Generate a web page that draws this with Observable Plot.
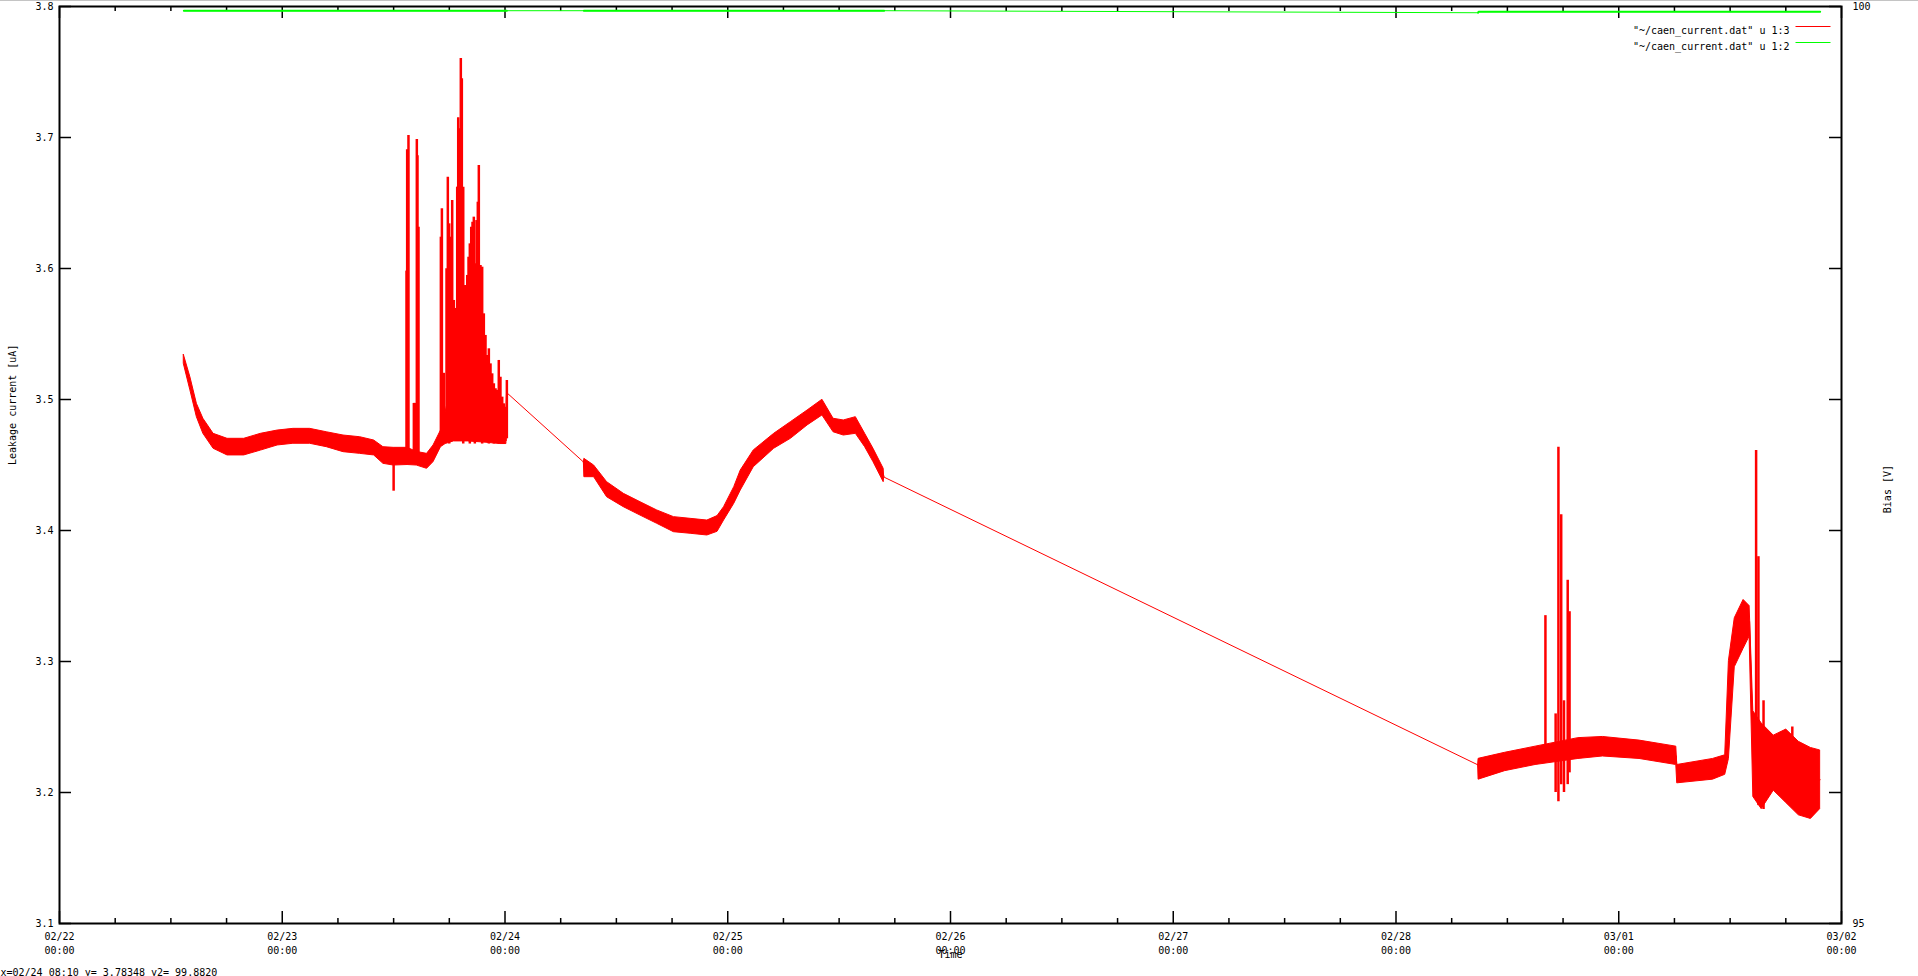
<!DOCTYPE html>
<html><head><meta charset="utf-8">
<script src="https://cdn.jsdelivr.net/npm/d3@7"></script>
<script src="https://cdn.jsdelivr.net/npm/@observablehq/plot@0.6"></script>
<style>
html,body{margin:0;padding:0;background:#fff;overflow:hidden}
#topline{position:absolute;left:0;top:0;width:100%;height:1px;background:#c4c4c4}
svg{display:block}
</style></head><body>
<div id="chart"></div>
<div id="topline"></div>
<script>
// time origin: 02/22 00:00 (non-leap year), end 03/02 00:00
const START = Date.UTC(2021, 1, 22);
const END = Date.UTC(2021, 2, 2);

// Leakage current noise band (hours since 02/22 00:00, lower/upper edge in uA, segment id)
const bandHours = [13.4, 14.1, 14.8, 15.5, 16.6, 18.1, 19.9, 21.7, 23.5, 25.2, 27.0, 28.8, 30.6, 32.4, 33.9, 34.9, 36.0, 37.5, 38.5, 39.6, 40.3, 41.1, 41.6, 42.5, 44.0, 46.0, 47.5, 48.15, 48.22,
  56.5, 56.55, 57.6, 59.0, 60.8, 62.6, 64.4, 66.2, 68.0, 69.8, 70.9, 71.6, 72.7, 73.4, 74.8, 77.0, 78.8, 80.6, 82.2, 83.4, 84.5, 85.8, 86.8, 87.7, 88.8, 88.85,
  152.85, 152.9, 155.75, 159.04, 163.65, 166.29, 170.24, 174.2, 174.3, 178.15, 179.47, 179.87, 180.5, 181.45, 182.1, 182.5, 183.4, 184.7, 186.05, 187.4, 188.7, 189.7];
const bandLo = [3.527, 3.507, 3.4865, 3.4738, 3.4624, 3.4573, 3.4573, 3.461, 3.4649, 3.4662, 3.4662, 3.4636, 3.4598, 3.4585, 3.4573, 3.4509, 3.4496, 3.450, 3.4496, 3.4471, 3.4522, 3.4636, 3.466, 3.468, 3.468, 3.467, 3.466, 3.466, 3.505,
  3.452, 3.4407, 3.4407, 3.4254, 3.4178, 3.4114, 3.4051, 3.3987, 3.3975, 3.3962, 3.399, 3.4076, 3.4204, 3.4305, 3.4483, 3.4624, 3.470, 3.4802, 3.4878, 3.475, 3.4725, 3.4738, 3.4636, 3.4522, 3.4369, 3.4407,
  3.221, 3.2098, 3.2163, 3.221, 3.2256, 3.2275, 3.2256, 3.221, 3.207, 3.2098, 3.2135, 3.2256, 3.2956, 3.3097, 3.319, 3.1966, 3.1873, 3.2014, 3.192, 3.1826, 3.1798, 3.1873];
const bandHi = [3.534, 3.517, 3.4967, 3.4853, 3.4738, 3.470, 3.470, 3.4738, 3.4763, 3.4776, 3.4776, 3.475, 3.4725, 3.4712, 3.4687, 3.4636, 3.4631, 3.4631, 3.460, 3.4585, 3.4649, 3.4763, 3.49, 3.52, 3.52, 3.505, 3.495, 3.49, 3.505,
  3.452, 3.4547, 3.4496, 3.4369, 3.428, 3.4216, 3.4153, 3.4102, 3.4089, 3.4076, 3.411, 3.4178, 3.4331, 3.4458, 3.4611, 3.4738, 3.4827, 3.4916, 3.4998, 3.4853, 3.484, 3.4865, 3.4738, 3.4624, 3.4471, 3.4407,
  3.221, 3.2257, 3.2303, 3.235, 3.2415, 3.2424, 3.2396, 3.235, 3.221, 3.2256, 3.2284, 3.3003, 3.333, 3.347, 3.3423, 3.262, 3.2527, 3.2434, 3.248, 3.2387, 3.234, 3.2321];
const bandSeg = [1,1,1,1,1,1,1,1,1,1,1,1,1,1,1,1,1,1,1,1,1,1,1,1,1,1,1,1,1,
  2,2,2,2,2,2,2,2,2,2,2,2,2,2,2,2,2,2,2,2,2,2,2,2,2,2,
  3,3,3,3,3,3,3,3,3,3,3,3,3,3,3,3,3,3,3,3,3,3];

// Current spikes (hours, low end, high end in uA)
const spikeHours = [36.0, 37.39, 37.46, 37.6, 38.18, 38.25, 38.33, 38.5, 38.57, 38.68,
  41.09, 41.2, 41.41, 41.7, 41.84, 41.99, 42.13, 42.31, 42.49, 42.67, 42.85, 42.96, 43.07, 43.13, 43.24, 43.35, 43.5, 43.64, 43.78, 43.93,
  44.07, 44.21, 44.36, 44.5, 44.64, 44.75, 44.93, 45.07, 45.18, 45.36, 45.54, 45.72, 45.9, 46.08, 46.26, 46.44, 46.62, 46.8, 46.98, 47.16,
  47.33, 47.51, 47.7, 47.87, 48.06, 48.2,
  160.1, 161.2, 161.5, 161.8, 162.1, 162.5, 162.7, 182.8, 183.05, 183.6, 186.7];
const spikeLo = [3.43, 3.452, 3.452, 3.452, 3.452, 3.452, 3.452, 3.45, 3.45, 3.45,
  3.47, 3.468, 3.47, 3.472, 3.468, 3.466, 3.47, 3.474, 3.468, 3.47, 3.476, 3.47, 3.468, 3.472, 3.474, 3.47, 3.466, 3.47, 3.476, 3.472,
  3.468, 3.466, 3.47, 3.468, 3.472, 3.466, 3.47, 3.468, 3.474, 3.47, 3.466, 3.47, 3.468, 3.472, 3.466, 3.47, 3.468, 3.466, 3.47, 3.468,
  3.466, 3.47, 3.468, 3.466, 3.468, 3.47,
  3.235, 3.20, 3.193, 3.206, 3.20, 3.206, 3.215, 3.197, 3.19, 3.187, 3.19];
const spikeHi = [3.455, 3.598, 3.6906, 3.7015, 3.497, 3.497, 3.497, 3.6985, 3.686, 3.6315,
  3.6239, 3.6456, 3.52, 3.5998, 3.6697, 3.6341, 3.6239, 3.6519, 3.5756, 3.5695, 3.6621, 3.715, 3.7066, 3.6926, 3.7603, 3.7448, 3.662, 3.587, 3.587, 3.5947,
  3.6086, 3.6188, 3.6315, 3.6353, 3.6392, 3.6036, 3.6366, 3.6506, 3.6786, 3.6023, 3.601, 3.5654, 3.5489, 3.5336, 3.5387, 3.5272, 3.5196, 3.512, 3.5082, 3.507,
  3.5298, 3.517, 3.5018, 3.4967, 3.494, 3.5145,
  3.335, 3.26, 3.4636, 3.412, 3.27, 3.362, 3.338, 3.461, 3.38, 3.27, 3.25];

// Bias voltage (hours, volts, segment id)
const biasHours = [13.4, 48.2, 56.5, 88.85, 152.85, 152.9, 189.7];
const biasVolts = [99.977, 99.977, 99.977, 99.977, 99.966, 99.972, 99.972];
const biasSeg = [1, 1, 2, 2, 3, 3, 3];

// Axes
const yTickValues = [3.1, 3.2, 3.3, 3.4, 3.5, 3.6, 3.7, 3.8];
const yTickLabels = ["3.1", "3.2", "3.3", "3.4", "3.5", "3.6", "3.7", "3.8"];
const y2TickValues = [95, 100];
const y2TickLabels = ["95", "100"];
const y2Domain = [95, 100];
const xTickDays = ["2021-02-22", "2021-02-23", "2021-02-24", "2021-02-25", "2021-02-26", "2021-02-27", "2021-02-28", "2021-03-01", "2021-03-02"];
const xLabel = "Time";
const yLabel = "Leakage current [uA]";
const y2Label = "Bias [V]";
const legendLabels = ['"~/caen_current.dat" u 1:3', '"~/caen_current.dat" u 1:2'];
const legendColors = ["#ff0000", "#00ff00"];
const statusText = "x=02/24 08:10 y= 3.78348 y2= 99.8820";

// layout
const W = 1918, H = 976, ML = 59, MR = 77, MT = 6, MB = 53;
const frameW = W - ML - MR, frameH = H - MT - MB;
const yDomain = [3.1, 3.8];

const toDate = h => new Date(START + h * 3600e3);
const band = bandHours.map((h, i) => ({t: toDate(h), lo: bandLo[i], hi: bandHi[i], seg: bandSeg[i]}));
const spikes = spikeHours.map((h, i) => ({t: toDate(h), lo: spikeLo[i], hi: spikeHi[i]}));
const toLeft = v => yDomain[0] + (v - y2Domain[0]) / (y2Domain[1] - y2Domain[0]) * (yDomain[1] - yDomain[0]);
const bias = biasHours.map((h, i) => ({t: toDate(h), v: biasVolts[i], seg: biasSeg[i]}));

const xMajor = xTickDays.map(s => new Date(s + "T00:00:00Z"));
const xMinor = d3.utcHour.every(6).range(new Date(START), new Date(END)).filter(d => d.getUTCHours() !== 0);
const fmtX = d3.utcFormat("%m/%d\n%H:%M");
const lineSymbol = {draw(ctx) { ctx.moveTo(-17.5, 0); ctx.lineTo(17.5, 0); }};

const marks = [
  // ticks (inward, mirrored)
  Plot.tickX(xMajor, {x: d => d, insetTop: frameH - 12, strokeWidth: 1.5}),
  Plot.tickX(xMajor, {x: d => d, insetBottom: frameH - 12, strokeWidth: 1.5}),
  Plot.tickX(xMinor, {x: d => d, insetTop: frameH - 5, strokeWidth: 1.5}),
  Plot.tickX(xMinor, {x: d => d, insetBottom: frameH - 5, strokeWidth: 1.5}),
  Plot.tickY(yTickValues, {y: d => d, insetRight: frameW - 12, strokeWidth: 1.5}),
  Plot.tickY(yTickValues, {y: d => d, insetLeft: frameW - 12, strokeWidth: 1.5}),
  // data: current
  Plot.areaY(band, {x: "t", y1: "lo", y2: "hi", z: "seg", fill: "#ff0000", stroke: "#ff0000", strokeWidth: 1}),
  Plot.line(band, {x: "t", y: d => (d.lo + d.hi) / 2, stroke: "#ff0000", strokeWidth: 1}),
  Plot.ruleX(spikes, {x: "t", y1: "lo", y2: "hi", stroke: "#ff0000", strokeWidth: 2.5}),
  // data: bias
  Plot.line(bias, {x: "t", y: d => toLeft(d.v), stroke: "#00ff00", strokeWidth: 1}),
  Plot.line(bias, {x: "t", y: d => toLeft(d.v), z: "seg", stroke: "#00ff00", strokeWidth: 2}),
  Plot.frame({stroke: "#000", strokeWidth: 2}),
  // tick labels
  Plot.text(yTickValues, {y: d => d, text: (d, i) => yTickLabels[i], frameAnchor: "left", dx: -6, textAnchor: "end"}),
  Plot.text(y2TickValues, {y: d => toLeft(d), text: (d, i) => y2TickLabels[i], frameAnchor: "right", dx: 11, textAnchor: "start"}),
  Plot.text(xMajor, {x: d => d, text: d => fmtX(d), frameAnchor: "bottom", dy: 19.5, lineHeight: 1.4, lineAnchor: "middle"}),
  // axis titles
  Plot.text([xLabel], {text: d => d, frameAnchor: "bottom", dy: 34}),
  Plot.text([yLabel], {text: d => d, frameAnchor: "left", dx: -46.5, rotate: -90}),
  Plot.text([y2Label], {text: d => d, frameAnchor: "right", dx: 46, rotate: -90}),
  Plot.text([statusText], {text: d => d, frameAnchor: "bottom-left", dx: -59, dy: 52, textAnchor: "start"}),
  // legend
  ...legendLabels.flatMap((label, i) => [
    Plot.text([label], {text: d => d, frameAnchor: "top-right", dx: -52, dy: 20 + 16 * i, textAnchor: "end"}),
    Plot.dot([label], {frameAnchor: "top-right", dx: -28.5, dy: 20 + 16 * i, symbol: lineSymbol, r: 1, stroke: legendColors[i], fill: "none", strokeWidth: 1})
  ])
];

const chart = Plot.plot({
  width: W, height: H,
  marginLeft: ML, marginRight: MR, marginTop: MT, marginBottom: MB,
  x: {type: "utc", domain: [new Date(START), new Date(END)], axis: null},
  y: {domain: yDomain, axis: null},
  style: {fontFamily: "'DejaVu Sans Mono', monospace", fontSize: "10px", background: "#fff", color: "#000", overflow: "visible"},
  marks
});
document.getElementById("chart").appendChild(chart);
</script>
</body></html>
